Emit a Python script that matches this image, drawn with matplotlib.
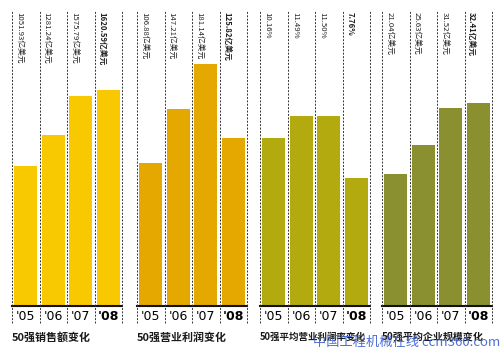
import matplotlib.pyplot as plt
import matplotlib.transforms as mtransforms

plt.rcParams['font.family'] = ['Noto Sans CJK SC', 'DejaVu Sans']

# data
years = ["'05", "'06", "'07", "'08"]
sales = [1051.93, 1281.24, 1575.79, 1620.59]
profit = [106.88, 147.21, 181.14, 125.82]
margin = [10.16, 11.49, 11.50, 7.76]
scale = [21.04, 25.63, 31.52, 32.41]

sales_labels = ['1051.93亿美元', '1281.24亿美元', '1575.79亿美元', '1620.59亿美元']
profit_labels = ['106.88亿美元', '147.21亿美元', '181.14亿美元', '125.82亿美元']
margin_labels = ['10.16%', '11.49%', '11.50%', '7.76%']
scale_labels = ['21.04亿美元', '25.63亿美元', '31.52亿美元', '32.41亿美元']

titles = ['50强销售额变化', '50强营业利润变化', '50强平均营业利润率变化', '50强平均企业规模变化']

panels = [
    (sales, sales_labels, titles[0], '#F8C800', 2222, 0.024, 7.9),
    (profit, profit_labels, titles[1], '#E5A800', 221.5, 0.274, 7.9),
    (margin, margin_labels, titles[2], '#B3AA10', 17.9, 0.520, 6.8),
    (scale, scale_labels, titles[3], '#8A9030', 47.2, 0.764, 7.2),
]

fig = plt.figure(figsize=(5, 3.55), dpi=100)

for vals, labs, title, col, ytop, left, tsize in panels:
    ax = fig.add_axes([left, 0.138, 0.22, 0.834])
    x = range(len(vals))
    ax.bar(x, vals, width=0.82, color=col, zorder=2)
    ax.set_xlim(-0.5, 3.5)
    ax.set_ylim(0, ytop)

    for s in ['top', 'right', 'left']:
        ax.spines[s].set_visible(False)
    ax.spines['bottom'].set_linewidth(1.5)
    ax.spines['bottom'].set_color('#111111')
    ax.set_yticks([])

    ax.set_xticks(list(x))
    ax.set_xticklabels(years, fontsize=9, family=['Liberation Sans Narrow', 'DejaVu Sans'])
    ax.tick_params(axis='x', length=0, pad=3)
    ax.get_xticklabels()[-1].set_fontweight('bold')

    # dashed separators
    for xv in [-0.5, 0.5, 1.5, 2.5, 3.5]:
        ax.axvline(xv, ymin=-0.057, ymax=1.0, color='#333333', lw=0.7,
                   linestyle=(0, (2, 1.5)), clip_on=False, zorder=3)

    trans = mtransforms.blended_transform_factory(ax.transData, ax.transAxes)
    for i, lab in enumerate(labs):
        ax.text(i - 0.5 + 0.27, 0.993, lab, transform=trans, rotation=270,
                ha='center', va='top', fontsize=5.6, color='#222222',
                fontweight='bold' if i == 3 else 'normal')

    ax.text(0.0, -0.105, title, transform=ax.transAxes, ha='left', va='center',
            fontsize=tsize, fontweight='bold', color='#1a1a1a')

# watermark
fig.text(0.626, 0.036, '中国工程机械在线 ccm360.com', color='#3B5FD0', fontsize=9.5,
         ha='left', va='center', alpha=0.9)

fig.savefig('out.png', dpi=100)
